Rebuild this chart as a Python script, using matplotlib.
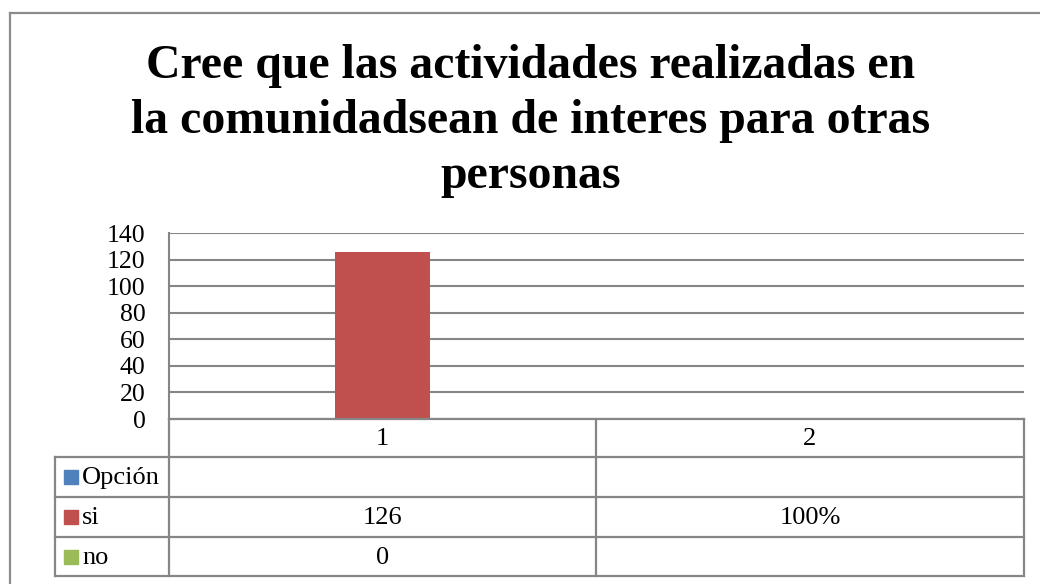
import matplotlib
matplotlib.use("Agg")
import matplotlib.pyplot as plt
import numpy as np

# ---- data ----
title_lines = ["Cree que las actividades realizadas en",
               "la comunidadsean de interes para otras",
               "personas"]
categories = ["1", "2"]
series_names = ["Opción", "si", "no"]
series_colors = ["#4F81BD", "#C0504D", "#9BBB59"]
opcion_values = [np.nan, np.nan]
si_values = [126, 1]
no_values = [0, np.nan]
table_opcion = ["", ""]
table_si = ["126", "100%"]
table_no = ["0", ""]
yticks = [0, 20, 40, 60, 80, 100, 120, 140]

W, H = 1040, 584
fig = plt.figure(figsize=(W / 100, H / 100), dpi=100)
plt.rcParams['font.family'] = ['Liberation Serif', 'DejaVu Serif']

GRID = "#868686"
TXT = "#000000"

# plot area in pixels
L, R, T, B = 169, 1024, 233, 419
ax = fig.add_axes([L / W, 1 - B / H, (R - L) / W, (B - T) / H])
ax.set_xlim(0, len(categories))
ax.set_ylim(0, 140)
ax.set_yticks(yticks)
ax.set_yticklabels([str(v) for v in yticks], fontsize=18.5, color=TXT)
ax.set_xticks([])
ax.tick_params(axis='y', length=0, pad=17)
ax.grid(axis='y', color=GRID, linewidth=1.5)
ax.set_axisbelow(True)
for s in ['top', 'right', 'bottom']:
    ax.spines[s].set_visible(False)
ax.spines['left'].set_color(GRID)
ax.spines['left'].set_linewidth(1.5)

gap = 1.5
n = len(series_names)
bw = 1.0 / (n + gap)
x = np.arange(len(categories)) + 0.5
all_vals = [opcion_values, si_values, no_values]
for i, (vals, col) in enumerate(zip(all_vals, series_colors)):
    offs = (i - (n - 1) / 2) * bw
    v = np.nan_to_num(np.array(vals, dtype=float), nan=0.0)
    ax.bar(x + offs, v, width=bw, color=col, zorder=3)

# overlay for table, border, title
ov = fig.add_axes([0, 0, 1, 1])
ov.set_xlim(0, W)
ov.set_ylim(H, 0)
ov.axis('off')
ov.patch.set_alpha(0)

lw = 1.6
# outer chart border (left and top visible)
ov.plot([10, 10], [13, H + 5], color="#8C8C8C", lw=1.6)
ov.plot([10, W + 5], [13, 13], color="#8C8C8C", lw=1.6)

# table geometry
TL = 55
col_div = 596
rows = [419, 457, 497, 537, 576]
ov.plot([L, R], [rows[0], rows[0]], color=GRID, lw=lw)
for yy in rows[1:]:
    ov.plot([TL, R], [yy, yy], color=GRID, lw=lw)
ov.plot([L, L], [rows[0], rows[-1]], color=GRID, lw=lw)
ov.plot([col_div, col_div], [rows[0], rows[-1]], color=GRID, lw=lw)
ov.plot([R, R], [rows[0], rows[-1]], color=GRID, lw=lw)
ov.plot([TL, TL], [rows[1], rows[-1]], color=GRID, lw=lw)

fs = 19
col_centers = [(L + col_div) / 2, (col_div + R) / 2]
for cx, c in zip(col_centers, categories):
    ov.text(cx, (rows[0] + rows[1]) / 2 + 1, c, ha='center', va='center', fontsize=fs, color=TXT)

table_rows = [table_opcion, table_si, table_no]
for r, (name, col, vals) in enumerate(zip(series_names, series_colors, table_rows)):
    yc = (rows[r + 1] + rows[r + 2]) / 2
    ov.add_patch(plt.Rectangle((64, yc - 7), 14, 14, color=col))
    ov.text(82, yc + 1, name, ha='left', va='center', fontsize=fs, color=TXT)
    for cx, v in zip(col_centers, vals):
        if v:
            ov.text(cx, yc + 1, v, ha='center', va='center', fontsize=fs, color=TXT)

# title
title_y = [78, 133, 188]
for ty, line in zip(title_y, title_lines):
    ov.text(531, ty, line, ha='center', va='baseline', fontsize=34.4,
            fontweight='bold', color=TXT)

fig.savefig("out.png", dpi=100)
